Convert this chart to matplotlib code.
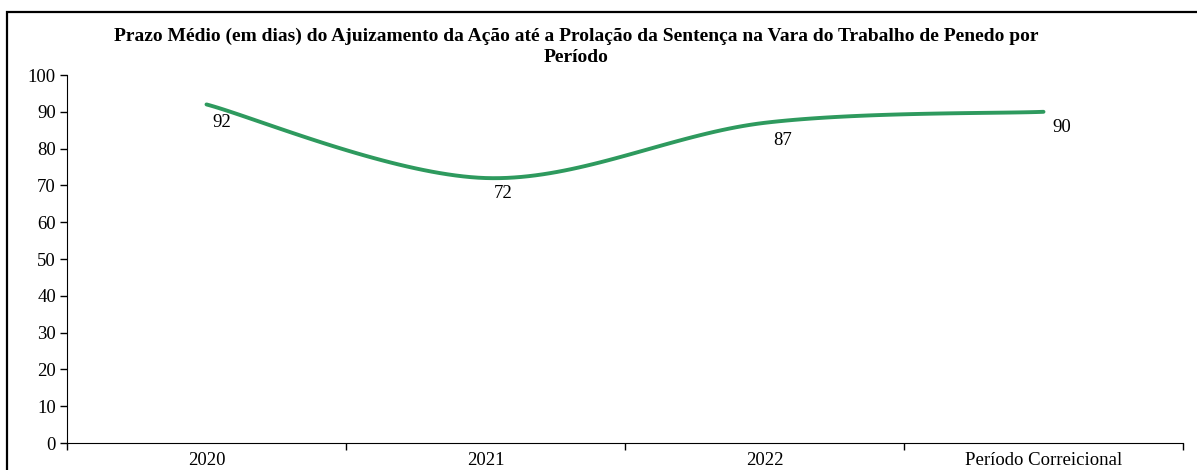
import matplotlib.pyplot as plt
import numpy as np
from matplotlib.patches import Rectangle

categories = ["2020", "2021", "2022", "Período Correicional"]
values = [92, 72, 87, 90]
title = ("Prazo Médio (em dias) do Ajuizamento da Ação até a Prolação da Sentença na Vara do Trabalho de Penedo por\n"
         "Período")

plt.rcParams['font.family'] = ['Liberation Serif', 'DejaVu Serif']


def smooth(x, y, n=40):
    # Excel-style smoothed line (cardinal spline through the points)
    x = np.asarray(x, float)
    y = np.asarray(y, float)
    px = np.concatenate([[x[0]], x, [x[-1]]])
    py = np.concatenate([[y[0]], y, [y[-1]]])
    xs, ys = [], []
    for i in range(1, len(px) - 2):
        p0 = np.array([px[i - 1], py[i - 1]])
        p1 = np.array([px[i], py[i]])
        p2 = np.array([px[i + 1], py[i + 1]])
        p3 = np.array([px[i + 2], py[i + 2]])
        c1 = p1 + (p2 - p0) / 6
        c2 = p2 - (p3 - p1) / 6
        t = np.linspace(0, 1, n)[:, None]
        pts = (1 - t) ** 3 * p1 + 3 * (1 - t) ** 2 * t * c1 + 3 * (1 - t) * t ** 2 * c2 + t ** 3 * p2
        xs.extend(pts[:, 0])
        ys.extend(pts[:, 1])
    return np.array(xs), np.array(ys)


fig = plt.figure(figsize=(11.97, 4.70), dpi=100)
ax = fig.add_axes([67 / 1197, 1 - 443 / 470, (1183 - 67) / 1197, (443 - 75) / 470])

xpos = np.arange(len(categories))
sx, sy = smooth(xpos, values)
ax.plot(sx, sy, color="#2e9a5e", lw=2.8, solid_capstyle="round")

offsets = [(11, -13), (13, -11), (13, -13), (13, -11)]
for x, v, off in zip(xpos, values, offsets):
    ax.annotate(str(v), (x, v), xytext=off, textcoords="offset points",
                ha="center", va="center", fontsize=13.5)

ax.set_xlim(-0.5, len(categories) - 0.5)
ax.set_ylim(0, 100)
ax.set_yticks(range(0, 101, 10))
ax.set_xticks(xpos)
ax.set_xticklabels(categories)
ax.set_xticks(np.arange(-0.5, len(categories)), minor=True)
ax.tick_params(axis="x", which="major", length=0, pad=6.5, labelsize=13.5)
ax.tick_params(axis="x", which="minor", length=5, direction="out", width=1)
ax.tick_params(axis="y", length=5, width=1, labelsize=13.5, pad=3)
ax.spines["top"].set_visible(False)
ax.spines["right"].set_visible(False)

fig.text(576 / 1197, 1 - 47 / 470, title, ha="center", va="center",
         fontsize=14, fontweight="bold", linespacing=1.3)

fig.patches.append(Rectangle((7 / 1197, -0.1), 1.1, 1.1 - 12 / 470,
                             transform=fig.transFigure, fill=False, lw=1.6, ec="black"))

fig.savefig("out.png", dpi=100)
